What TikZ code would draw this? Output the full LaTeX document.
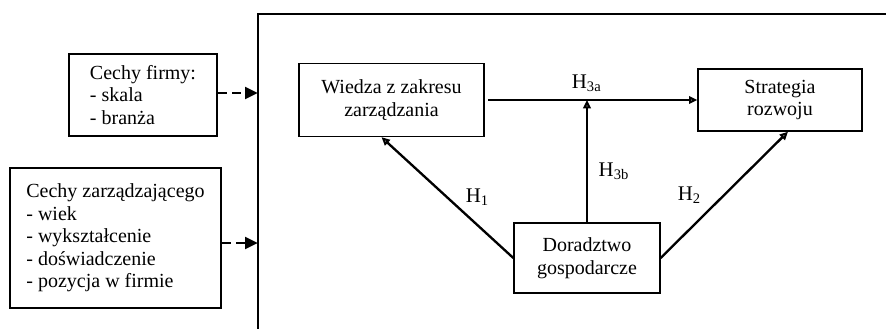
\documentclass[tikz,border=0pt]{standalone}
\usepackage{fontspec}
\setmainfont{Liberation Serif}
\usetikzlibrary{arrows.meta}

\begin{document}
\begin{tikzpicture}[x=0.6pt, y=-0.6pt,
    box/.style={draw, line width=0.8pt, inner sep=0pt, font=\fontsize{12}{13.5}\selectfont},
    hyp/.style={line width=1.4pt, -{Triangle[open, length=5pt, width=4.5pt]}},
    ctrl/.style={line width=1.7pt, dash pattern=on 5.4pt off 3.4pt, -{Triangle[length=7.8pt, width=7pt]}},
    lab/.style={font=\fontsize{12.5}{14}\selectfont}]
    % Bounding box
    \useasboundingbox (0,0) rectangle (886,328);

    % Draw frame of the model
    \draw[line width=0.8pt] (258,330) -- (258,14) -- (888,14);
    \coordinate (ramaA) at (258,93);
    \coordinate (ramaB) at (258,243);

    % Draw control variables
    \node[box, align=left, minimum width=88.8pt, minimum height=49.2pt] (firma) at (143,95)
        {Cechy firmy:\\- skala\\- branża};
    \node[box, align=left, minimum width=126.6pt, minimum height=84pt] (menedzer) at (115.5,238)
        {Cechy zarządzającego\\- wiek\\- wykształcenie\\- doświadczenie\\- pozycja w firmie};

    % Draw model variables
    \node[box, align=center, minimum width=111pt, minimum height=43.8pt] (wiedza) at (391.5,100)
        {Wiedza z zakresu\\zarządzania};
    \node[box, align=center, minimum width=98.4pt, minimum height=37.2pt] (strategia) at (780,100)
        {Strategia\\rozwoju};
    \node[box, align=center, minimum width=87.6pt, minimum height=42pt] (doradztwo) at (587,258)
        {Doradztwo\\gospodarcze};

    % Draw control arrows
    \draw[ctrl] (firma.east |- ramaA) -- (ramaA);
    \draw[ctrl] (menedzer.east |- ramaB) -- (ramaB);

    % Draw hypotheses
    \draw[hyp, shorten <=2pt] (wiedza.east) -- (strategia.west)
        node[lab, pos=0.48, above=1pt] {H\textsubscript{3a}};
    \draw[hyp] (doradztwo.north) -- (doradztwo.north |- wiedza.east)
        node[lab, pos=0.42, right=3pt] {H\textsubscript{3b}};
    \draw[hyp] (doradztwo.west) -- ([xshift=-6pt]wiedza.south)
        node[lab, pos=0.5, right=7pt] {H\textsubscript{1}};
    \draw[hyp] (doradztwo.east) -- ([xshift=4.8pt]strategia.south)
        node[lab, pos=0.5, left=10pt] {H\textsubscript{2}};
\end{tikzpicture}
\end{document}
